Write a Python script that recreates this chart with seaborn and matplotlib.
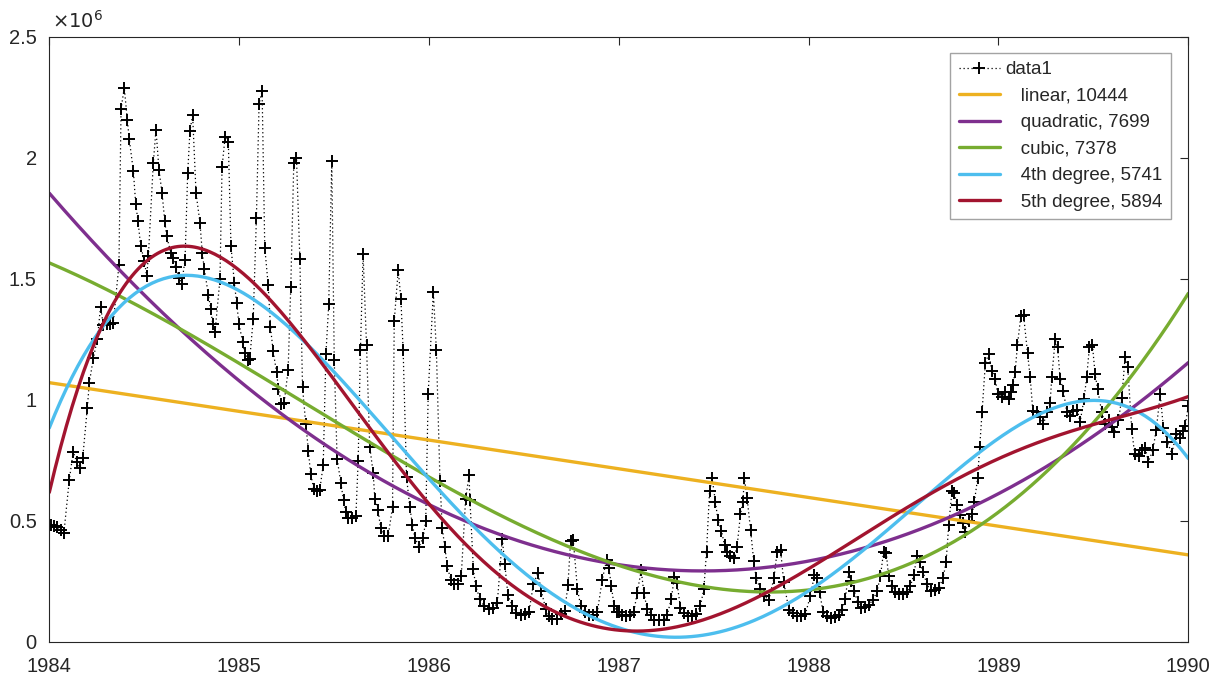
import numpy as np
import pandas as pd
import matplotlib
matplotlib.use("Agg")
import matplotlib.pyplot as plt
import seaborn as sns
from matplotlib.ticker import FuncFormatter, FixedLocator

# ---------------- data ----------------
# time in years, values in millions
years = [
    1984.007, 1984.025, 1984.042, 1984.060, 1984.077, 1984.105, 1984.126, 1984.144, 1984.162, 1984.176,
    1984.200, 1984.211, 1984.232, 1984.253, 1984.270, 1984.285, 1984.302, 1984.320, 1984.337, 1984.367,
    1984.378, 1984.395, 1984.411, 1984.421, 1984.443, 1984.455, 1984.467, 1984.481, 1984.501, 1984.513,
    1984.522, 1984.548, 1984.562, 1984.578, 1984.594, 1984.608, 1984.618, 1984.641, 1984.653, 1984.666,
    1984.685, 1984.697, 1984.715, 1984.729, 1984.741, 1984.755, 1984.773, 1984.794, 1984.806, 1984.817,
    1984.838, 1984.850, 1984.861, 1984.873, 1984.899, 1984.910, 1984.926, 1984.943, 1984.957, 1984.975,
    1984.987, 1984.999,
    1985.018, 1985.030, 1985.047, 1985.056, 1985.074, 1985.091, 1985.105, 1985.121, 1985.135, 1985.153,
    1985.165, 1985.179, 1985.197, 1985.207, 1985.223, 1985.237, 1985.258, 1985.272, 1985.288, 1985.302,
    1985.320, 1985.334, 1985.351, 1985.365, 1985.376, 1985.393, 1985.411, 1985.425, 1985.443, 1985.457,
    1985.472, 1985.488, 1985.501, 1985.516, 1985.536, 1985.550, 1985.562, 1985.574, 1985.592, 1985.615,
    1985.627, 1985.639, 1985.653, 1985.671, 1985.688, 1985.706, 1985.715, 1985.732, 1985.745, 1985.762,
    1985.785, 1985.808, 1985.817, 1985.838, 1985.852, 1985.864, 1985.882, 1985.899, 1985.913, 1985.926,
    1985.948, 1985.969, 1985.983, 1985.996,
    1986.023, 1986.039, 1986.058, 1986.070, 1986.083, 1986.097, 1986.114, 1986.132, 1986.153, 1986.170,
    1986.193, 1986.211, 1986.216, 1986.234, 1986.246, 1986.269, 1986.290, 1986.316, 1986.339, 1986.360,
    1986.386, 1986.399, 1986.416, 1986.439, 1986.457, 1986.483, 1986.504, 1986.527, 1986.550, 1986.574,
    1986.592, 1986.615, 1986.632, 1986.650, 1986.676, 1986.697, 1986.715, 1986.732, 1986.746, 1986.760,
    1986.782, 1986.799, 1986.820, 1986.843, 1986.866, 1986.887, 1986.913, 1986.936, 1986.948, 1986.961,
    1986.975, 1986.992,
    1987.000, 1987.018, 1987.040, 1987.061, 1987.079, 1987.097, 1987.118, 1987.132, 1987.149, 1987.170,
    1987.188, 1987.211, 1987.237, 1987.255, 1987.276, 1987.293, 1987.307, 1987.325, 1987.342, 1987.364,
    1987.386, 1987.409, 1987.430, 1987.448, 1987.462, 1987.478, 1987.492, 1987.509, 1987.522, 1987.541,
    1987.557, 1987.571, 1987.588, 1987.606, 1987.623, 1987.641, 1987.653, 1987.662, 1987.676, 1987.694,
    1987.711, 1987.724, 1987.746, 1987.767, 1987.790, 1987.817, 1987.834, 1987.852, 1987.869, 1987.896,
    1987.918, 1987.940, 1987.961, 1987.983,
    1988.009, 1988.030, 1988.044, 1988.058, 1988.076, 1988.097, 1988.118, 1988.140, 1988.158, 1988.176,
    1988.193, 1988.211, 1988.223, 1988.241, 1988.258, 1988.276, 1988.299, 1988.316, 1988.339, 1988.360,
    1988.378, 1988.395, 1988.409, 1988.421, 1988.439, 1988.457, 1988.474, 1988.497, 1988.518, 1988.536,
    1988.553, 1988.571, 1988.585, 1988.602, 1988.623, 1988.645, 1988.664, 1988.685, 1988.708, 1988.724,
    1988.738, 1988.755, 1988.767, 1988.782, 1988.796, 1988.813, 1988.822, 1988.843, 1988.861, 1988.873,
    1988.890, 1988.901, 1988.913, 1988.931, 1988.948, 1988.966, 1988.983, 1988.996,
    1989.018, 1989.035, 1989.053, 1989.065, 1989.076, 1989.088, 1989.100, 1989.118, 1989.132, 1989.153,
    1989.167, 1989.181, 1989.202, 1989.220, 1989.237, 1989.255, 1989.272, 1989.281, 1989.299, 1989.311,
    1989.325, 1989.342, 1989.360, 1989.378, 1989.395, 1989.416, 1989.430, 1989.451, 1989.465, 1989.479,
    1989.495, 1989.509, 1989.522, 1989.544, 1989.562, 1989.580, 1989.597, 1989.611, 1989.632, 1989.650,
    1989.667, 1989.681, 1989.702, 1989.717, 1989.738, 1989.755, 1989.773, 1989.790, 1989.813, 1989.831,
    1989.852, 1989.869, 1989.890, 1989.913, 1989.936, 1989.957, 1989.971, 1989.983, 1990.000,
]
values_millions = [
    0.482, 0.479, 0.474, 0.462, 0.449, 0.666, 0.784, 0.743, 0.718, 0.759,
    0.963, 1.070, 1.171, 1.249, 1.383, 1.306, 1.311, 1.314, 1.318, 1.556,
    2.201, 2.289, 2.155, 2.077, 1.943, 1.809, 1.739, 1.636, 1.571, 1.510,
    1.592, 1.979, 2.115, 1.948, 1.853, 1.739, 1.674, 1.605, 1.584, 1.546,
    1.502, 1.478, 1.576, 1.935, 2.111, 2.175, 1.853, 1.728, 1.604, 1.538,
    1.432, 1.375, 1.311, 1.279, 1.497, 1.960, 2.085, 2.066, 1.633, 1.481,
    1.399, 1.314,
    1.238, 1.192, 1.165, 1.168, 1.331, 1.750, 2.221, 2.275, 1.628, 1.474,
    1.301, 1.200, 1.114, 1.045, 0.983, 0.985, 1.122, 1.465, 1.979, 2.000,
    1.579, 1.050, 0.898, 0.789, 0.694, 0.632, 0.620, 0.628, 0.730, 1.187,
    1.393, 1.984, 1.163, 0.756, 0.653, 0.583, 0.534, 0.511, 0.511, 0.518,
    0.746, 1.203, 1.600, 1.225, 0.805, 0.697, 0.588, 0.544, 0.469, 0.436,
    0.436, 0.555, 1.323, 1.535, 1.417, 1.203, 0.678, 0.555, 0.482, 0.428,
    0.392, 0.428, 0.498, 1.024,
    1.445, 1.203, 0.665, 0.469, 0.392, 0.310, 0.256, 0.237, 0.237, 0.269,
    0.588, 0.686, 0.583, 0.299, 0.229, 0.175, 0.147, 0.136, 0.139, 0.158,
    0.425, 0.322, 0.191, 0.147, 0.119, 0.109, 0.114, 0.122, 0.237, 0.283,
    0.207, 0.136, 0.106, 0.093, 0.093, 0.114, 0.126, 0.232, 0.416, 0.420,
    0.217, 0.147, 0.122, 0.109, 0.109, 0.122, 0.256, 0.338, 0.302, 0.229,
    0.147, 0.122,
    0.122, 0.109, 0.106, 0.109, 0.122, 0.201, 0.294, 0.201, 0.136, 0.109,
    0.090, 0.087, 0.090, 0.109, 0.175, 0.266, 0.240, 0.139, 0.119, 0.106,
    0.106, 0.114, 0.147, 0.217, 0.371, 0.620, 0.674, 0.576, 0.503, 0.457,
    0.397, 0.371, 0.354, 0.343, 0.392, 0.527, 0.576, 0.674, 0.591, 0.462,
    0.331, 0.261, 0.217, 0.188, 0.171, 0.261, 0.371, 0.380, 0.245, 0.131,
    0.119, 0.106, 0.106, 0.114,
    0.188, 0.273, 0.262, 0.204, 0.122, 0.106, 0.098, 0.101, 0.109, 0.131,
    0.175, 0.289, 0.250, 0.207, 0.163, 0.139, 0.142, 0.152, 0.171, 0.207,
    0.269, 0.371, 0.367, 0.269, 0.229, 0.204, 0.196, 0.196, 0.204, 0.229,
    0.273, 0.354, 0.327, 0.289, 0.237, 0.207, 0.212, 0.220, 0.261, 0.327,
    0.482, 0.620, 0.615, 0.563, 0.523, 0.490, 0.452, 0.498, 0.527, 0.576,
    0.674, 0.803, 0.947, 1.151, 1.187, 1.119, 1.086, 1.021,
    1.012, 1.029, 1.004, 1.033, 1.061, 1.115, 1.225, 1.347, 1.350, 1.192,
    1.094, 0.952, 0.947, 0.926, 0.898, 0.947, 0.985, 1.094, 1.249, 1.217,
    1.086, 1.037, 0.947, 0.930, 0.952, 0.955, 0.906, 1.004, 1.094, 1.217,
    1.225, 1.105, 1.045, 0.947, 0.898, 0.914, 0.887, 0.865, 0.914, 1.008,
    1.176, 1.135, 0.877, 0.776, 0.768, 0.792, 0.800, 0.743, 0.790, 0.874,
    1.021, 0.882, 0.825, 0.776, 0.857, 0.840, 0.870, 0.890, 0.972,
]

# fitted curves, values (millions) read at each whole year
fit_years = [1984, 1985, 1986, 1987, 1988, 1989, 1990]
fit_linear = [1.066, 0.952, 0.841, 0.710, 0.591, 0.477, 0.359]
fit_quadratic = [1.857, 1.073, 0.563, 0.315, 0.335, 0.620, 1.146]
fit_cubic = [1.564, 1.151, 0.678, 0.318, 0.207, 0.539, 1.437]
fit_4th = [0.882, 1.453, 0.665, 0.065, 0.204, 0.841, 0.756]
fit_5th = [0.616, 1.535, 0.567, 0.049, 0.299, 0.756, 1.012]

fit_labels = ["   linear, 10444", "   quadratic, 7699", "   cubic, 7378",
              "   4th degree, 5741", "   5th degree, 5894"]
fit_degrees = [1, 2, 3, 4, 5]
fit_colors = ["#EDB120", "#7E2F8E", "#77AC30", "#4DBEEE", "#A2142F"]

x_ticks = [1984, 1985, 1986, 1987, 1988, 1989, 1990]
y_ticks = [0, 0.5e6, 1.0e6, 1.5e6, 2.0e6, 2.5e6]

# ---------------- plotting ----------------
sns.set_theme(style="white")
plt.rcParams["font.family"] = ["Liberation Sans", "DejaVu Sans"]
AX = "#262626"

fig = plt.figure(figsize=(12.27, 6.76), dpi=100)
ax = fig.add_axes([49.3 / 1227, 1 - 641.5 / 676, (1188.3 - 49.3) / 1227, (641.5 - 36.5) / 676])

df = pd.DataFrame({"year": years, "value": np.array(values_millions) * 1e6})
sns.lineplot(data=df, x="year", y="value", ax=ax, sort=False, estimator=None,
             color="black", linestyle=(0, (1, 2.2)), linewidth=0.9,
             marker="+", markersize=8.5, markeredgewidth=1.4,
             markeredgecolor="black", label="data1")

fit_series = [fit_linear, fit_quadratic, fit_cubic, fit_4th, fit_5th]
fx = np.array(fit_years, dtype=float) - 1984.0
grid = np.linspace(1984, 1990, 400)
for vals, deg, col, lab in zip(fit_series, fit_degrees, fit_colors, fit_labels):
    coef = np.polyfit(fx, np.array(vals) * 1e6, deg)
    curve = pd.DataFrame({"year": grid, "value": np.polyval(coef, grid - 1984.0)})
    sns.lineplot(data=curve, x="year", y="value", ax=ax, color=col,
                 linewidth=2.4, label=lab, sort=False, estimator=None)

ax.set_xlim(1984, 1990)
ax.set_ylim(0, 2.5e6)
ax.xaxis.set_major_locator(FixedLocator(x_ticks))
ax.yaxis.set_major_locator(FixedLocator(y_ticks))
ax.xaxis.set_major_formatter(FuncFormatter(lambda v, p: f"{v:.0f}"))
ax.yaxis.set_major_formatter(FuncFormatter(lambda v, p: f"{v / 1e6:g}"))
ax.set_xlabel("")
ax.set_ylabel("")
ax.tick_params(axis="both", direction="in", length=6, width=0.8, color=AX,
               labelsize=14.5, labelcolor=AX, top=True, right=True)
ax.tick_params(axis="x", pad=11)
ax.tick_params(axis="y", pad=9)
for s in ax.spines.values():
    s.set_visible(True)
    s.set_color(AX)
    s.set_linewidth(0.8)
ax.grid(False)

ax.text(0.002, 1.008, r"$\times10^{6}$", transform=ax.transAxes, ha="left", va="bottom",
        fontsize=14, color=AX)

leg = ax.legend(loc="upper right", bbox_to_anchor=(0.985, 0.973), frameon=True, fontsize=13.5,
                handlelength=2.2, handletextpad=0.3, labelspacing=0.5, borderpad=0.45,
                borderaxespad=0.0, fancybox=False, numpoints=1)
leg.get_frame().set_edgecolor("#8c8c8c")
leg.get_frame().set_linewidth(1.0)
for t in leg.get_texts():
    t.set_color(AX)

fig.savefig("out.png", dpi=100)
